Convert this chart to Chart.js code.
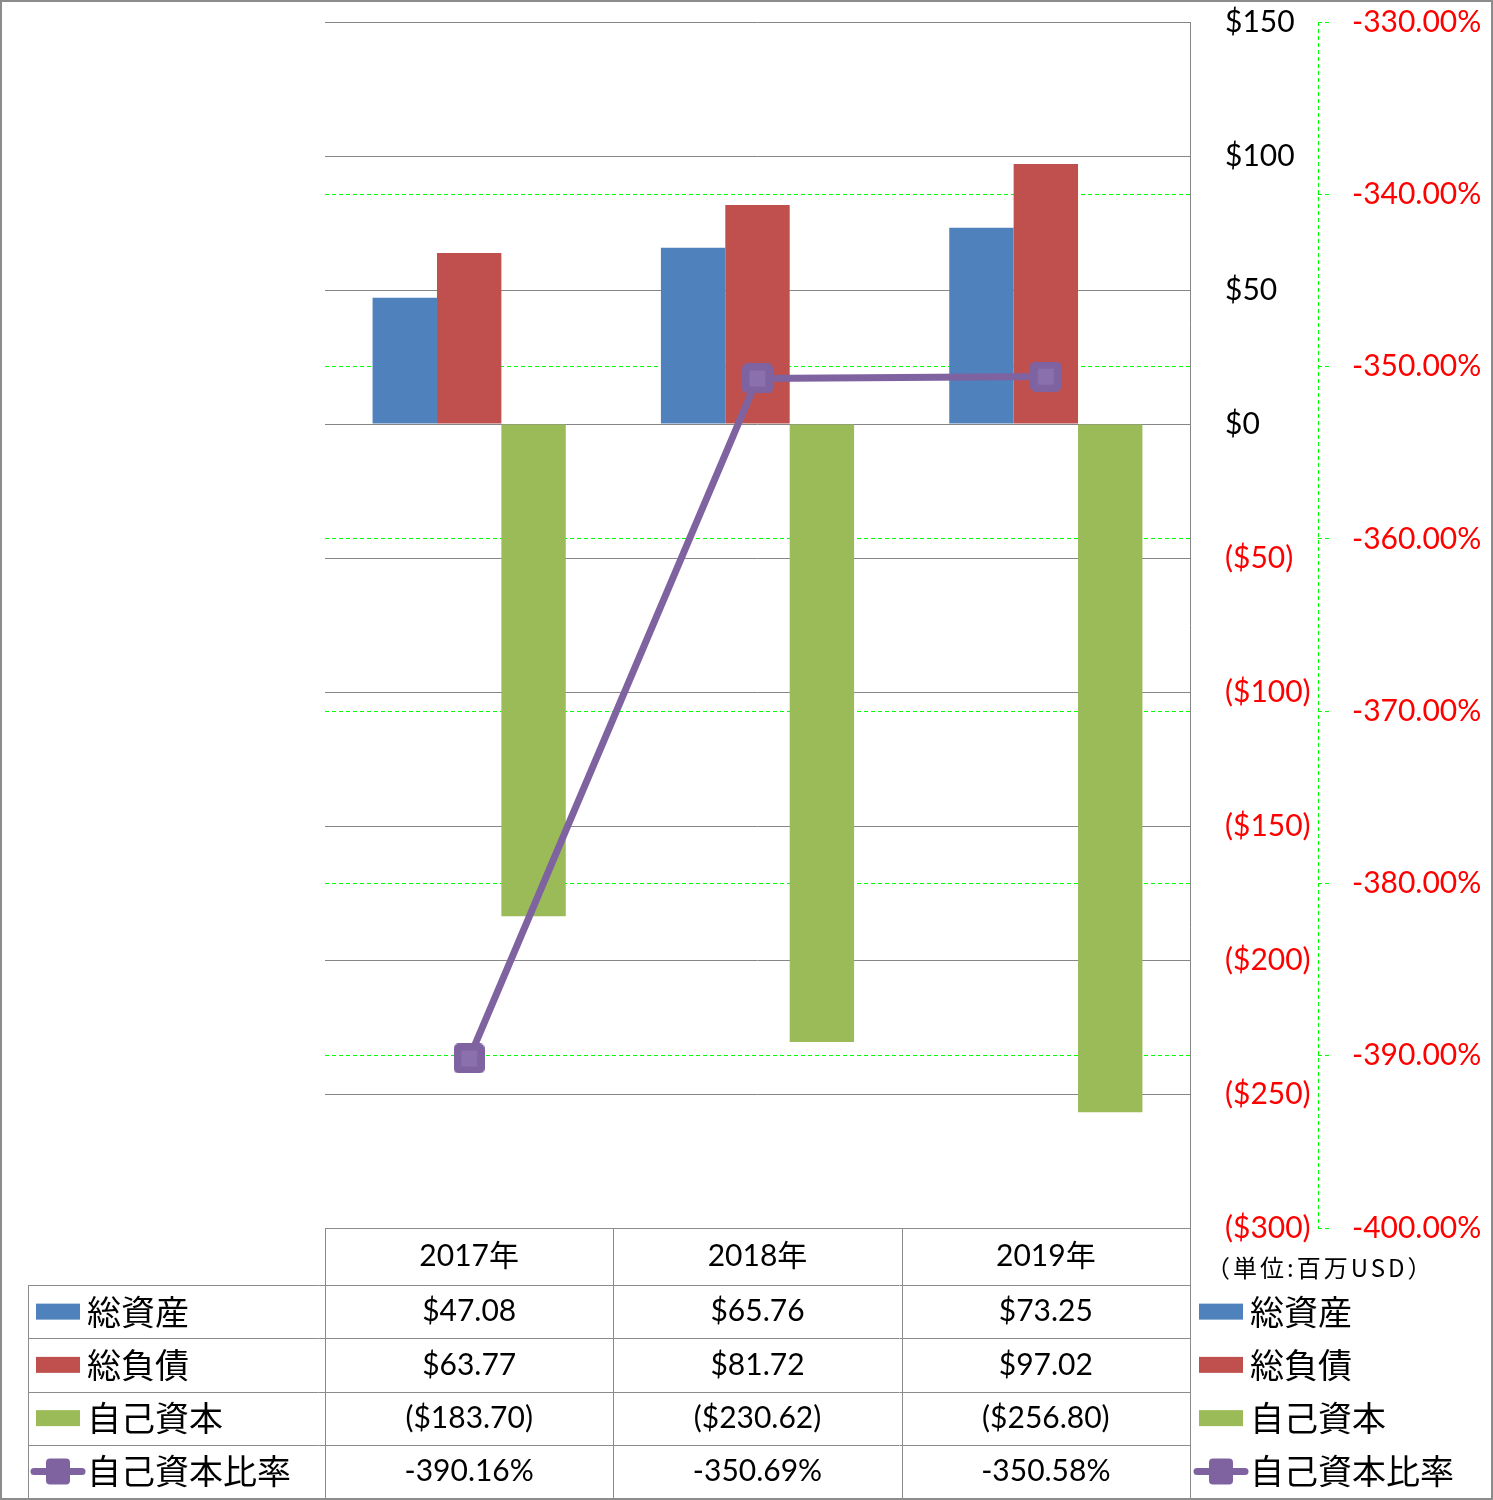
<!DOCTYPE html>
<html>
<head>
<meta charset="utf-8">
<script src="https://cdn.jsdelivr.net/npm/chart.js@4.4.1/dist/chart.umd.min.js"></script>
<style>
  body { margin: 0; background: #fff; }
  #wrap { width: 1493px; height: 1500px; position: relative; }
</style>
</head>
<body>
<div id="wrap"><canvas id="chart"></canvas></div>
<script>
// data
const years = ['2017年', '2018年', '2019年'];
const totalAssets = [47.08, 65.76, 73.25];
const totalLiabilities = [63.77, 81.72, 97.02];
const equity = [-183.70, -230.62, -256.80];
const equityRatio = [-390.16, -350.69, -350.58];
const seriesNames = ['総資産', '総負債', '自己資本', '自己資本比率'];
const unitLabel = '（単位:百万USD）';

const colors = ['#4F81BD', '#C0504D', '#9BBB59', '#7F63A1'];
const latin = 'Lato, "Noto Sans CJK JP", sans-serif';
const cjk = '"Noto Sans CJK JP", sans-serif';

const money = v => v < 0 ? '($' + (-v).toFixed(2) + ')' : '$' + v.toFixed(2);
const pct = v => v.toFixed(2) + '%';

// square marker used for the ratio line
function makeMarker(w, h) {
    const c = document.createElement('canvas');
    c.width = w;
    c.height = h;
    const g = c.getContext('2d');
    g.fillStyle = '#7F63A1';
    g.beginPath();
    g.roundRect(0, 0, w, h, 5);
    g.fill();
    g.fillStyle = '#8A70AC';
    g.fillRect(w / 2 - 8, h / 2 - 8, 16, 16);
    return c;
}
const marker = makeMarker(31, 30);

function drawKey(ctx, i, x, yc) {
    ctx.save();
    if (i < 3) {
        ctx.fillStyle = colors[i];
        ctx.fillRect(x, yc - 8, 44, 16);
    } else {
        ctx.strokeStyle = colors[3];
        ctx.lineWidth = 7;
        ctx.lineCap = 'round';
        ctx.beginPath();
        ctx.moveTo(x - 2, yc);
        ctx.lineTo(x + 46, yc);
        ctx.stroke();
        ctx.fillStyle = colors[3];
        ctx.beginPath();
        ctx.roundRect(x + 10, yc - 13, 24, 26, 4);
        ctx.fill();
    }
    ctx.restore();
}

const tablePlugin = {
    id: 'dataTable',
    afterDraw(chart) {
        const { ctx, chartArea: a, scales } = chart;
        const x = scales.x, y2 = scales.y2;
        const headerTop = a.bottom;
        const headerH = 57;
        const tableLeft = 28;
        const tableBottom = 1498;
        const rowH = (tableBottom - headerTop - headerH) / 4;
        const half = (a.right - a.left) / years.length / 2;

        ctx.save();

        // dashed secondary axis line
        ctx.strokeStyle = '#00FF00';
        ctx.lineWidth = 1;
        ctx.setLineDash([4, 3]);
        ctx.beginPath();
        ctx.moveTo(Math.round(y2.left) + 0.5, a.top);
        ctx.lineTo(Math.round(y2.left) + 0.5, a.bottom);
        ctx.stroke();
        ctx.setLineDash([]);

        // table grid
        ctx.strokeStyle = '#8C8C8C';
        ctx.beginPath();
        ctx.moveTo(a.left, headerTop + 0.5);
        ctx.lineTo(a.right, headerTop + 0.5);
        for (let r = 0; r <= 4; r++) {
            const yy = Math.round(headerTop + headerH + r * rowH) + 0.5;
            ctx.moveTo(tableLeft, yy);
            ctx.lineTo(a.right, yy);
        }
        ctx.moveTo(tableLeft + 0.5, headerTop + headerH);
        ctx.lineTo(tableLeft + 0.5, tableBottom);
        const edges = [a.left];
        years.forEach((_, i) => edges.push(x.getPixelForValue(i) + half));
        edges.forEach(ex => {
            const xx = Math.round(ex) + 0.5;
            ctx.moveTo(xx, headerTop);
            ctx.lineTo(xx, tableBottom);
        });
        ctx.stroke();

        // header + values
        ctx.fillStyle = '#000';
        ctx.textAlign = 'center';
        ctx.textBaseline = 'middle';
        ctx.font = '30px ' + latin;
        const rows = [totalAssets.map(money), totalLiabilities.map(money), equity.map(money), equityRatio.map(pct)];
        years.forEach((yr, i) => {
            const cx = x.getPixelForValue(i);
            ctx.fillText(yr, cx, headerTop + headerH / 2);
            rows.forEach((row, r) => {
                ctx.fillText(row[i], cx, headerTop + headerH + r * rowH + rowH / 2);
            });
        });

        // row labels and right legend
        ctx.textAlign = 'left';
        ctx.font = '34px ' + cjk;
        seriesNames.forEach((name, r) => {
            const yc = headerTop + headerH + r * rowH + rowH / 2;
            drawKey(ctx, r, 36, yc);
            ctx.fillText(name, 87, yc);
            drawKey(ctx, r, 1199, yc);
            ctx.fillText(name, 1250, yc);
        });

        ctx.font = '24px ' + cjk;
        ctx.letterSpacing = '3px';
        ctx.fillText(unitLabel, 1206, 1268);
        ctx.letterSpacing = '0px';

        // outer frame
        ctx.strokeStyle = '#8C8C8C';
        ctx.lineWidth = 2;
        ctx.strokeRect(1, 1, chart.width - 2, chart.height - 2);
        ctx.restore();
    }
};

function noPad(scale, w) {
    scale.width = w;
    scale.paddingTop = 0;
    scale.paddingBottom = 0;
}

new Chart(document.getElementById('chart'), {
    data: {
        labels: years,
        datasets: [
            { type: 'line', label: seriesNames[3], data: equityRatio, yAxisID: 'y2', order: 0,
              borderColor: colors[3], borderWidth: 7, pointStyle: marker, pointRadius: 15 },
            { type: 'bar', label: seriesNames[0], data: totalAssets, yAxisID: 'y', order: 1,
              backgroundColor: colors[0] },
            { type: 'bar', label: seriesNames[1], data: totalLiabilities, yAxisID: 'y', order: 1,
              backgroundColor: colors[1] },
            { type: 'bar', label: seriesNames[2], data: equity, yAxisID: 'y', order: 1,
              backgroundColor: colors[2] }
        ]
    },
    options: {
        responsive: true,
        maintainAspectRatio: false,
        animation: false,
        datasets: {
            bar: { categoryPercentage: 0.67, barPercentage: 1.0 }
        },
        layout: { padding: { left: 325, top: 22, right: 0, bottom: 272 } },
        plugins: {
            legend: { display: false },
            tooltip: { enabled: false }
        },
        scales: {
            x: { display: false },
            y: {
                position: 'right',
                min: -300,
                max: 150,
                ticks: {
                    stepSize: 50,
                    padding: 35,
                    crossAlign: 'near',
                    font: { family: latin, size: 30 },
                    color: c => (c.tick && c.tick.value < 0) ? '#FF0000' : '#000000',
                    callback: v => v < 0 ? '($' + (-v) + ')' : '$' + v
                },
                grid: { color: '#868686', lineWidth: 1, drawTicks: false },
                border: { display: true, color: '#868686', width: 1 },
                afterFit(scale) { noPad(scale, 128); }
            },
            y2: {
                position: 'right',
                min: -400,
                max: -330,
                ticks: {
                    stepSize: 10,
                    padding: 22,
                    crossAlign: 'near',
                    font: { family: latin, size: 30 },
                    color: '#FF0000',
                    callback: v => v.toFixed(2) + '%'
                },
                grid: {
                    color: c => (c.index === 0 || c.index === 7) ? 'rgba(0,0,0,0)' : '#00FF00',
                    lineWidth: 1,
                    drawTicks: true,
                    tickLength: 12,
                    tickColor: '#00FF00',
                    tickBorderDash: [4, 3]
                },
                border: { display: false, dash: [4, 3] },
                afterFit(scale) { noPad(scale, 175); }
            }
        }
    },
    plugins: [tablePlugin]
});
</script>
</body>
</html>
